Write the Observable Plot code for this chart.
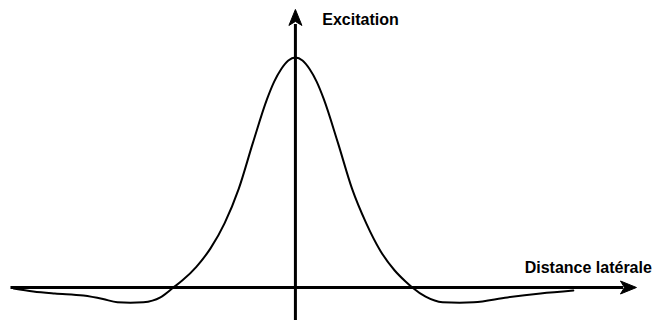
<!DOCTYPE html>
<html>
<head>
<meta charset="utf-8">
<script src="https://cdn.jsdelivr.net/npm/d3@7"></script>
<script src="https://cdn.jsdelivr.net/npm/@observablehq/plot@0.6"></script>
<style>
  html, body { margin: 0; padding: 0; background: #fff; }
  #chart svg { display: block; }
</style>
</head>
<body>
<div id="chart"></div>
<script>
// Lateral-inhibition profile: excitation as a function of lateral distance
const distance = [-9.96, -9.26, -8.5, -7.49, -6.8, -6.29, -5.83, -5.37, -4.77, -4.31, -4.0, -3.5, -3, -2.5, -2, -1.5, -1, -0.75, -0.5, -0.25, 0,
                  0.25, 0.5, 0.75, 1, 1.5, 2, 2.5, 3, 3.5, 3.9, 4.13, 4.6, 5.2, 5.8, 6.3, 7.49, 8.66, 9.82];
const excitation = [-0.4, -1.7, -2.6, -3.5, -5.0, -6.4, -6.6, -6.4, -4.3, 0, 3, 9, 17, 28, 43, 63, 82, 89.5, 95, 98.7, 100,
                    98.7, 95, 89.5, 82, 63, 43, 28, 16, 7.5, 2.5, 0, -4, -6.4, -6.6, -6.4, -4.3, -2.6, -1.3];

// Axis labels
const xLabel = "Distance latérale";
const yLabel = "Excitation";

const profile = distance.map((d, i) => ({distance: d, excitation: excitation[i]}));

// Extents of the two arrowed axes (data units)
const xDomain = [-10.42, 12.97];
const yDomain = [-14.35, 124.8];
const xAxisStart = -10.05, xAxisTip = 12.05;
const yAxisTip = 120.9;

// Barbed, filled arrowhead with its tip at the origin, pointing up
const arrowHead = {
  draw(context) {
    context.moveTo(0, 0);
    context.lineTo(6.5, 16);
    context.lineTo(0, 12);
    context.lineTo(-6.5, 16);
    context.closePath();
  }
};

const labelFont = {fontSize: 16, fontWeight: "bold", fontFamily: "Liberation Sans, Arial, sans-serif", fill: "#000"};

const chart = Plot.plot({
  width: 662,
  height: 320,
  marginTop: 0, marginRight: 0, marginBottom: 0, marginLeft: 0,
  style: {background: "#fff"},
  x: {domain: xDomain, axis: null},
  y: {domain: yDomain, axis: null},
  marks: [
    // horizontal axis
    Plot.ruleY([0], {x1: xAxisStart, x2: xAxisTip - 0.45, stroke: "#000", strokeWidth: 3}),
    // vertical axis
    Plot.ruleX([0], {y1: yDomain[0], y2: yAxisTip - 6.5, stroke: "#000", strokeWidth: 3}),
    // arrowheads
    Plot.dot([{x: xAxisTip, y: 0}], {x: "x", y: "y", symbol: arrowHead, rotate: 90, fill: "#000", stroke: "#000", strokeWidth: 1}),
    Plot.dot([{x: 0, y: yAxisTip}], {x: "x", y: "y", symbol: arrowHead, rotate: 0, fill: "#000", stroke: "#000", strokeWidth: 1}),
    // excitation profile
    Plot.line(profile, {x: "distance", y: "excitation", curve: "monotone-x", stroke: "#000", strokeWidth: 2}),
    // labels
    Plot.text([yLabel], {x: 0.95, y: 114.3, text: d => d, textAnchor: "start", lineAnchor: "bottom", ...labelFont}),
    Plot.text([xLabel], {x: 8.1, y: 6.5, text: d => d, textAnchor: "start", lineAnchor: "bottom",
      letterSpacing: 0.5, ...labelFont})
  ]
});

document.getElementById("chart").appendChild(chart);
</script>
</body>
</html>
